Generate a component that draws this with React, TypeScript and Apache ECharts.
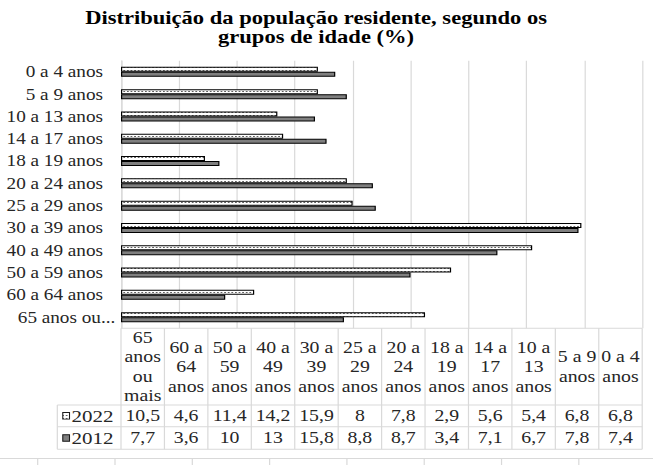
import React, { useEffect, useRef } from 'react';
import * as echarts from 'echarts';

// ---- data ----
const categories = [
  '0 a 4 anos',
  '5 a 9 anos',
  '10 a 13 anos',
  '14 a 17 anos',
  '18 a 19 anos',
  '20 a 24 anos',
  '25 a 29 anos',
  '30 a 39 anos',
  '40 a 49 anos',
  '50 a 59 anos',
  '60 a 64 anos',
  '65 anos ou mais',
];
const values2022 = [6.8, 6.8, 5.4, 5.6, 2.9, 7.8, 8, 15.9, 14.2, 11.4, 4.6, 10.5];
const values2012 = [7.4, 7.8, 6.7, 7.1, 3.4, 8.7, 8.8, 15.8, 13, 10, 3.6, 7.7];
const seriesNames = ['2022', '2012'];
// data-table column headers (table runs in reverse category order)
const tableHeaders = [
  '65\nanos\nou\nmais',
  '60 a\n64\nanos',
  '50 a\n59\nanos',
  '40 a\n49\nanos',
  '30 a\n39\nanos',
  '25 a\n29\nanos',
  '20 a\n24\nanos',
  '18 a\n19\nanos',
  '14 a\n17\nanos',
  '10 a\n13\nanos',
  '5 a 9\nanos',
  '0 a 4\nanos',
];
const axisMin = 0;
const axisMax = 18;
const axisStep = 2;
const titleText = 'Distribuição da população residente, segundo os\ngrupos de idade (%)';

const fmt = (v: number) => String(v).replace('.', ',');

export default function App() {
  const ref = useRef<HTMLDivElement>(null);

  useEffect(() => {
    const el = ref.current as HTMLDivElement;
    const chart = echarts.init(el, null, { renderer: 'svg' });

    const c = document.createElement('canvas');
    c.width = 3;
    c.height = 3;
    const ctx = c.getContext('2d') as CanvasRenderingContext2D;
    ctx.fillStyle = '#ffffff';
    ctx.fillRect(0, 0, 3, 3);
    ctx.fillStyle = '#000000';
    ctx.fillRect(1, 1, 1, 1);
    const dotPattern: any = { image: c, repeat: 'repeat' };

    const W = 544;
    const gridLeft = 100.8;
    const gridRightX = 535;
    const gridTop = 60.7;
    const gridBottomY = 328.3;

    const font = 'Liberation Serif';
    const gridColor = '#d9d9d9';
    const textColor = '#262626';

    // table geometry
    const tLeft = gridLeft;
    const tRight = gridRightX;
    const colW = (tRight - tLeft) / tableHeaders.length;
    const legendLeft = 47.75;
    const yH0 = gridBottomY;
    const yH1 = 405;
    const yR1 = 426.7;
    const yR2 = 449.3;

    const g: any[] = [];
    const hline = (y: number, x1: number, x2: number) =>
      g.push({ type: 'line', silent: true, shape: { x1, y1: y, x2, y2: y }, style: { stroke: gridColor, lineWidth: 1 } });
    const vline = (x: number, y1: number, y2: number) =>
      g.push({ type: 'line', silent: true, shape: { x1: x, y1, x2: x, y2 }, style: { stroke: gridColor, lineWidth: 1 } });

    hline(yH0, tLeft, tRight);
    hline(yH1, legendLeft, tRight);
    hline(yR1, legendLeft, tRight);
    hline(yR2, legendLeft, tRight);
    vline(legendLeft, yH1, yR2);
    for (let i = 0; i <= tableHeaders.length; i++) vline(tLeft + i * colW, yH0, yR2);

    const rev2022 = values2022.slice().reverse();
    const rev2012 = values2012.slice().reverse();
    const rowVals = [rev2022, rev2012];
    const rowMid = [(yH1 + yR1) / 2, (yR1 + yR2) / 2];

    tableHeaders.forEach((h, i) => {
      g.push({
        type: 'text',
        silent: true,
        x: tLeft + (i + 0.5) * colW,
        y: (yH0 + yH1) / 2,
        style: {
          text: h,
          align: 'center',
          verticalAlign: 'middle',
          fontFamily: font,
          fontSize: 16.5,
          lineHeight: 19.5,
          fill: textColor,
        },
      });
    });
    rowVals.forEach((vals, r) => {
      vals.forEach((v, i) => {
        g.push({
          type: 'text',
          silent: true,
          x: tLeft + (i + 0.5) * colW,
          y: rowMid[r],
          style: {
            text: fmt(v),
            align: 'center',
            verticalAlign: 'middle',
            fontFamily: font,
            fontSize: 16.5,
            fill: textColor,
          },
        });
      });
      g.push({
        type: 'rect',
        silent: true,
        shape: { x: 52.3, y: rowMid[r] - 3.3, width: 5.6, height: 6.6 },
        style: { fill: r === 0 ? dotPattern : '#7f7f7f', stroke: '#1a1a1a', lineWidth: 0.9 },
      });
      g.push({
        type: 'text',
        silent: true,
        x: 59.5,
        y: rowMid[r],
        style: {
          text: seriesNames[r],
          align: 'left',
          verticalAlign: 'middle',
          fontFamily: font,
          fontSize: 17.5,
          fill: textColor,
        },
      });
    });

    // sheet strip at the very bottom
    hline(458.5, 0, W);
    for (let k = 0; k < 9; k++) vline(31.4 + k * 64.4, 458.5, 465);

    const option: any = {
      animation: false,
      backgroundColor: '#ffffff',
      title: {
        text: titleText,
        left: 263.3,
        textAlign: 'center',
        top: 8.5,
        padding: 0,
        textStyle: {
          fontFamily: font,
          fontWeight: 'bold',
          fontSize: 18.8,
          lineHeight: 18.5,
          color: '#000000',
        },
      },
      grid: {
        left: gridLeft,
        right: W - gridRightX,
        top: gridTop,
        bottom: 465 - gridBottomY,
        containLabel: false,
      },
      xAxis: {
        type: 'value',
        min: axisMin,
        max: axisMax,
        interval: axisStep,
        axisLabel: { show: false },
        axisLine: { show: false },
        axisTick: { show: false },
        splitLine: { show: true, lineStyle: { color: gridColor, width: 1 } },
      },
      yAxis: {
        type: 'category',
        data: categories,
        inverse: true,
        axisLine: { show: true, lineStyle: { color: gridColor, width: 1 } },
        axisTick: { show: false },
        axisLabel: {
          margin: 15,
          fontFamily: font,
          fontSize: 16,
          color: textColor,
          // long labels are cut like the source chart, and run on towards the axis
          formatter: (v: string) => (v.length > 12 ? '{t|' + v.slice(0, 10) + '...}' : v),
          rich: {
            t: { fontFamily: font, fontSize: 16, color: textColor, width: 71, align: 'left' },
          },
        },
      },
      series: [
        {
          type: 'bar',
          name: seriesNames[0],
          data: values2022,
          barWidth: 5,
          barGap: '0%',
          itemStyle: { color: dotPattern, borderColor: '#000000', borderWidth: 1 },
        },
        {
          type: 'bar',
          name: seriesNames[1],
          data: values2012,
          barWidth: 5,
          barGap: '0%',
          itemStyle: { color: '#7f7f7f', borderColor: '#000000', borderWidth: 1 },
        },
      ],
      graphic: g,
    };

    chart.setOption(option);
    return () => chart.dispose();
  }, []);

  return (
    <div
      style={{
        position: 'fixed',
        left: 0,
        top: 0,
        width: 653,
        height: 465,
        overflow: 'hidden',
        background: '#ffffff',
      }}
    >
      <div
        ref={ref}
        style={{ width: 544, height: 465, transform: 'scaleX(1.2004)', transformOrigin: '0 0' }}
      />
    </div>
  );
}
